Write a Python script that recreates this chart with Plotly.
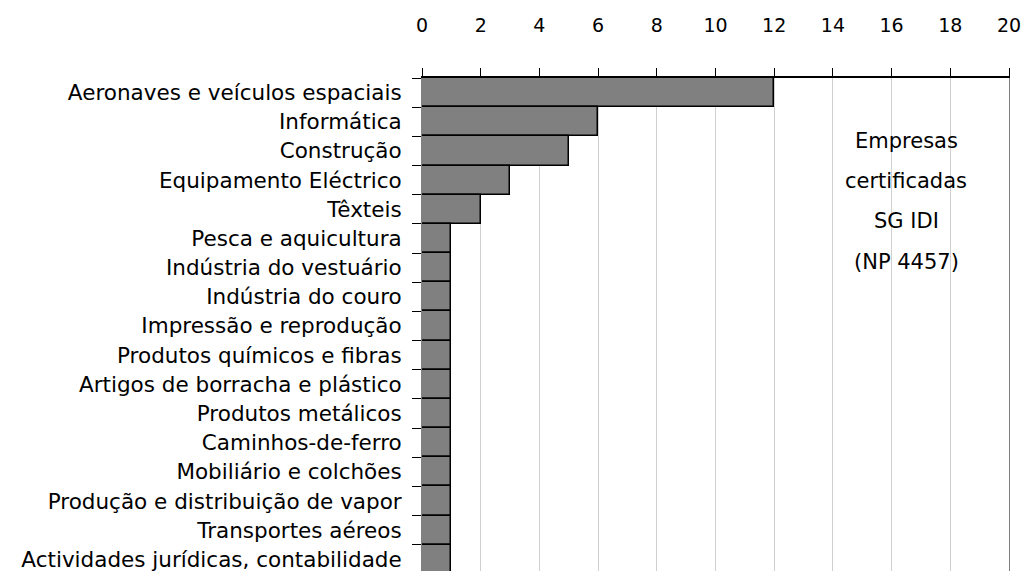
import plotly.graph_objects as go

# Sectores e número de empresas certificadas
sectores = [
    'Aeronaves e veículos espaciais',
    'Informática',
    'Construção',
    'Equipamento Eléctrico',
    'Têxteis',
    'Pesca e aquicultura',
    'Indústria do vestuário',
    'Indústria do couro',
    'Impressão e reprodução',
    'Produtos químicos e fibras',
    'Artigos de borracha e plástico',
    'Produtos metálicos',
    'Caminhos-de-ferro',
    'Mobiliário e colchões',
    'Produção e distribuição de vapor',
    'Transportes aéreos',
    'Actividades jurídicas, contabilidade',
]
empresas = [12, 6, 5, 3, 2, 1, 1, 1, 1, 1, 1, 1, 1, 1, 1, 1, 1]

nota = ['Empresas', 'certificadas', 'SG IDI', '(NP 4457)']

FONT = 'DejaVu Sans'

fig = go.Figure(go.Bar(
    x=empresas, y=sectores, orientation='h',
    marker=dict(color='#808080', line=dict(color='black', width=1.5)),
    showlegend=False,
))

# nota à direita, uma linha de cada vez (espaçamento largo)
for i, linha in enumerate(nota):
    fig.add_annotation(
        x=16.5, xref='x', y=0.872 - i * 0.0815, yref='paper',
        xanchor='center', yanchor='middle',
        text=linha, showarrow=False,
        font=dict(family=FONT, size=21, color='black'),
    )

fig.update_layout(
    width=1026, height=571,
    plot_bgcolor='white', paper_bgcolor='white',
    margin=dict(l=422, r=17, t=78, b=0),
    bargap=0,
    font=dict(family=FONT, size=21, color='black'),
    xaxis=dict(
        side='top', range=[0, 20], dtick=2,
        ticks='outside', ticklen=8, tickcolor='black', tickwidth=1,
        showline=True, linecolor='black', linewidth=1.5,
        showgrid=True, gridcolor='#d0d0d0', gridwidth=1,
        zeroline=False, ticklabelstandoff=29,
        tickfont=dict(family=FONT, size=19),
    ),
    yaxis=dict(
        type='category', range=[16.4, -0.5],
        ticks='outside', tickson='boundaries', ticklen=9, tickcolor='black',
        showline=True, linecolor='#808080', mirror=True,
        showgrid=False, ticklabelstandoff=15,
        tickfont=dict(family=FONT, size=21.5),
    ),
)

# sem a margem do body nem barras de scroll, a figura ocupa a janela toda
fig.write_html(
    'out.html',
    config={'displayModeBar': False},
    post_script="document.body.style.margin='0';document.body.style.overflow='hidden';"
                "document.documentElement.style.overflow='hidden';",
)
